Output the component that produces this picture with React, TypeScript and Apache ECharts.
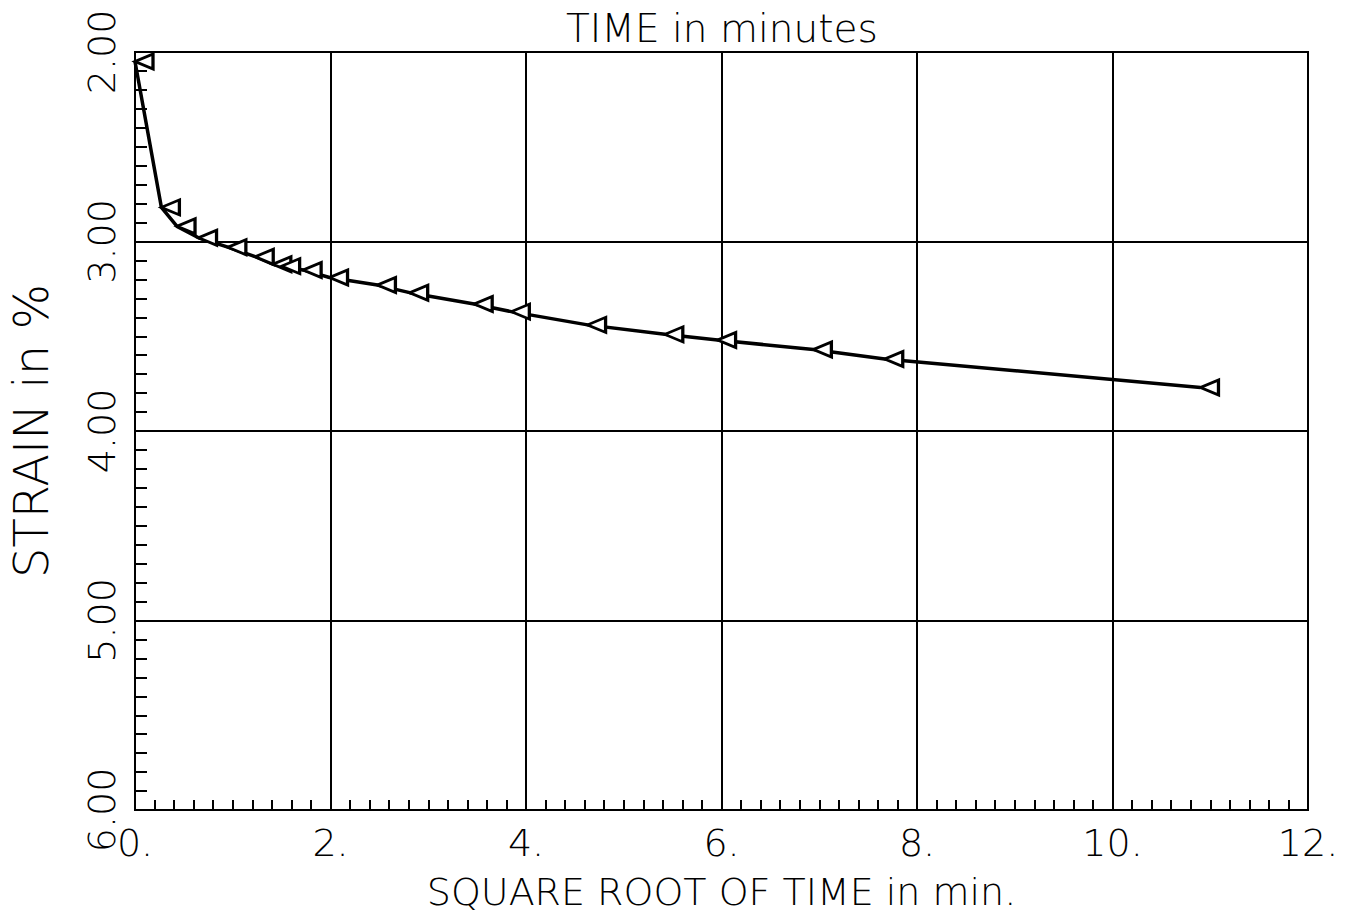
import React, { useEffect, useRef } from "react";
import * as echarts from "echarts";

// square root of time (min^0.5)
const sqrtTime = [0, 0.27, 0.43, 0.65, 0.95, 1.23, 1.41, 1.5, 1.72, 1.99, 2.48, 2.81, 3.47, 3.85, 4.63, 5.42, 5.96, 6.94, 7.67, 10.9];
// strain in %
const strain = [2.05, 2.82, 2.92, 2.98, 3.03, 3.08, 3.12, 3.13, 3.15, 3.19, 3.23, 3.27, 3.33, 3.37, 3.44, 3.49, 3.52, 3.57, 3.62, 3.77];

const titleText = "TIME in minutes";
const xName = "SQUARE ROOT OF TIME in min.";
const yName = "STRAIN in %";

const FONT = "DejaVu Sans";

export default function App() {
  const ref = useRef<HTMLDivElement>(null);
  useEffect(() => {
    if (!ref.current) return;
    const chart = echarts.init(ref.current, null, { renderer: "svg" });
    const data = sqrtTime.map((x, i) => [x, strain[i]]);
    chart.setOption({
      animation: false,
      backgroundColor: "#ffffff",
      grid: {
        left: 135,
        top: 52,
        width: 1173,
        height: 758,
        containLabel: false,
        outerBoundsMode: "none",
        show: true,
        borderColor: "#000",
        borderWidth: 2,
        backgroundColor: "transparent",
      },
      graphic: [
        {
          type: "text",
          left: 566,
          top: 9,
          style: {
            text: titleText,
            fill: "#000",
            fontFamily: FONT,
            fontWeight: 200,
            fontSize: 39,
          },
        },
      ],
      xAxis: {
        type: "value",
        min: 0,
        max: 12,
        interval: 2,
        name: xName,
        nameLocation: "middle",
        nameGap: 65,
        nameTextStyle: { fontFamily: FONT, fontWeight: 200, fontSize: 38, color: "#000", lineHeight: 34 },
        axisLine: { show: true, lineStyle: { color: "#000", width: 2 } },
        axisTick: { show: true, inside: true, length: 10, lineStyle: { color: "#000", width: 2 } },
        minorTick: { show: true, splitNumber: 10, length: 10, lineStyle: { color: "#000", width: 2 } },
        axisLabel: {
          margin: 14,
          fontFamily: FONT,
          fontWeight: 200,
          fontSize: 38,
          lineHeight: 38,
          color: "#000",
          formatter: (v: number) => `${v}.`,
        },
        splitLine: { show: true, lineStyle: { color: "#000", width: 2 } },
      },
      yAxis: {
        type: "value",
        min: 2,
        max: 6,
        interval: 1,
        inverse: true,
        name: yName,
        nameLocation: "middle",
        nameRotate: 90,
        nameGap: 80,
        nameTextStyle: { fontFamily: FONT, fontWeight: 200, fontSize: 48, color: "#000", lineHeight: 48 },
        axisLine: { show: true, lineStyle: { color: "#000", width: 2 } },
        axisTick: { show: true, inside: true, length: 12, lineStyle: { color: "#000", width: 2 } },
        minorTick: { show: true, splitNumber: 10, length: 12, lineStyle: { color: "#000", width: 2 } },
        axisLabel: {
          rotate: 90,
          margin: 14,
          fontFamily: FONT,
          fontWeight: 200,
          fontSize: 38,
          lineHeight: 38,
          color: "#000",
          formatter: (v: number) => v.toFixed(2),
        },
        splitLine: { show: true, lineStyle: { color: "#000", width: 2 } },
      },
      series: [
        {
          type: "line",
          data,
          showAllSymbol: true,
          symbol: "triangle",
          symbolRotate: 90,
          symbolSize: [15, 18],
          symbolOffset: [9, 0],
          lineStyle: { color: "#000", width: 3.5 },
          itemStyle: { color: "#fff", borderColor: "#000", borderWidth: 3 },
          z: 5,
        },
      ],
    });
    return () => chart.dispose();
  }, []);
  return (
    <div
      ref={ref}
      style={{ position: "fixed", left: 0, top: 0, width: 1356, height: 913, background: "#fff" }}
    />
  );
}
